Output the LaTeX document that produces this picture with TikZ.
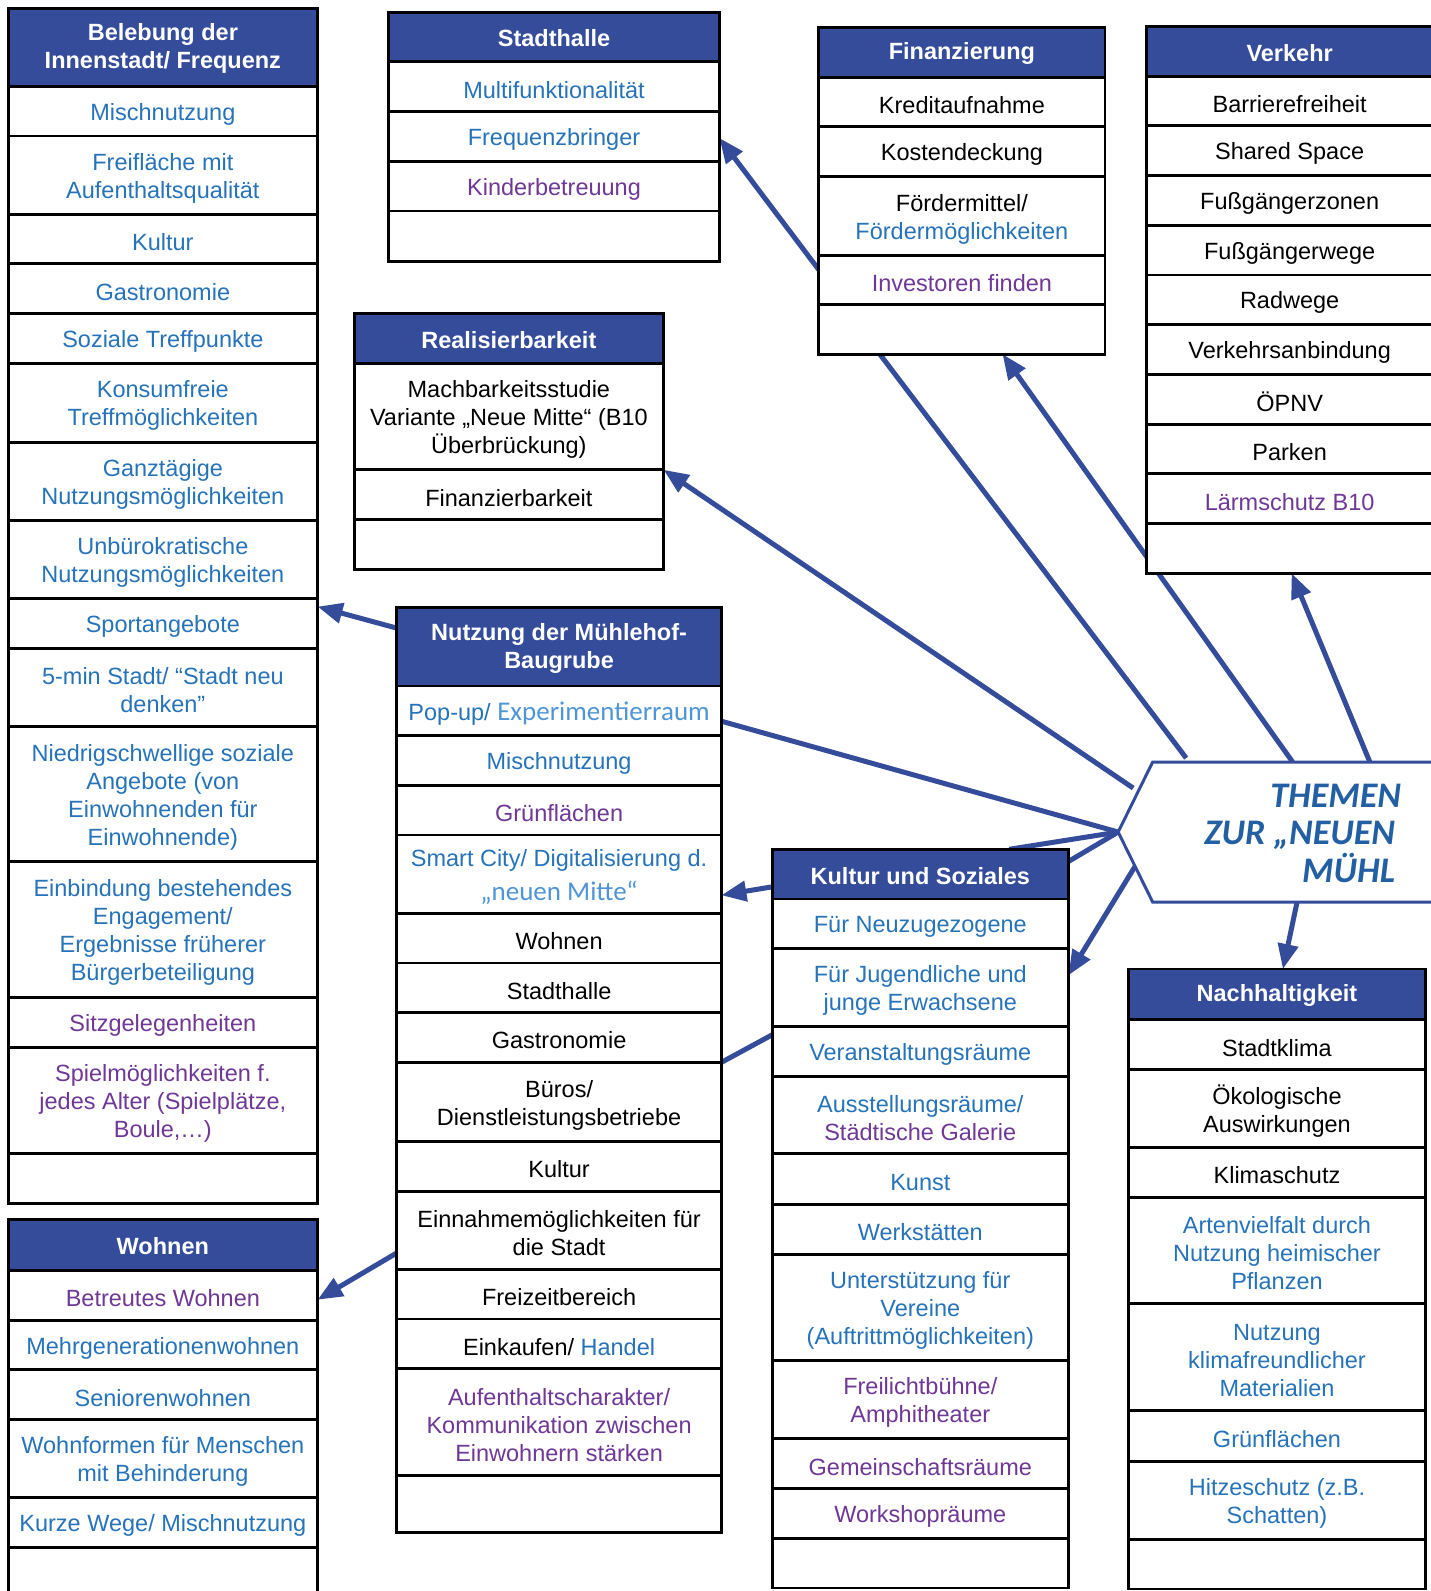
\documentclass[tikz,border=0pt]{standalone}
\usepackage{fontspec}
\setmainfont{Liberation Sans}
\newfontfamily\calfont{Carlito}
\usetikzlibrary{arrows.meta,calc}
\definecolor{hdrblue}{HTML}{354C9B}
\definecolor{tblue}{HTML}{2673BA}
\definecolor{tpurple}{HTML}{6F3896}
\definecolor{lblue}{HTML}{4F95D6}
\definecolor{hextext}{HTML}{2360A3}
\pgfdeclarelayer{back}
\pgfdeclarelayer{bg}
\pgfsetlayers{back,bg,main}
\tikzset{
 cellbox/.style={draw=black, line width=2.8pt, fill=white, inner sep=0pt, outer sep=0pt},
 celltext/.style={inner sep=0pt, align=center, font=\fontsize{23.5}{28}\selectfont, text=black, yshift=-3pt},
 hdr/.style={text=white, font=\bfseries\fontsize{23.5}{28}\selectfont, yshift=1.5pt},
 hdrfill/.style={fill=hdrblue},
 cb/.style={text=tblue}, cp/.style={text=tpurple}, ck/.style={text=black},
 conn/.style={draw=hdrblue, line width=5pt},
 arr/.style={conn, -{Triangle[length=25pt,width=20pt]}},
 hexstyle/.style={draw=hdrblue, line width=3pt, fill=white},
}
% name, x1, x2, y1, y2, text style, text
\newcommand\cell[7]{\node[cellbox,minimum width={(#3-#2)*1.0149pt},minimum height={(#5-#4)*1.0149pt}] (#1) at ({(#2+#3)/2},{(#4+#5)/2}) {};
\node[celltext,#6] (#1-t) at (#1.center) {#7};}
\newcommand\hcell[7]{\node[cellbox,hdrfill,minimum width={(#3-#2)*1.0149pt},minimum height={(#5-#4)*1.0149pt}] (#1) at ({(#2+#3)/2},{(#4+#5)/2}) {};
\node[celltext,hdr] (#1-t) at (#1.center) {#7};}
\newcommand\calit[1]{{\calfont\fontsize{27}{32}\selectfont #1}}
\begin{document}
\begin{tikzpicture}[x=1.0149pt,y=-1.0149pt]
\begin{pgfonlayer}{back}
\path[fill=white] (0,0) rectangle (1410,1568);
\end{pgfonlayer}
\useasboundingbox (0,0) rectangle (1410,1568);

% Belebung
\hcell{bel0}{8}{313}{8}{85}{}{Belebung der\\Innenstadt/ Frequenz}
\cell{bel1}{8}{313}{85}{134}{cb}{Mischnutzung}
\cell{bel2}{8}{313}{134}{211}{cb}{Freifläche mit\\Aufenthaltsqualität}
\cell{bel3}{8}{313}{211}{260}{cb}{Kultur}
\cell{bel4}{8}{313}{260}{309}{cb}{Gastronomie}
\cell{bel5}{8}{313}{309}{358}{cb}{Soziale Treffpunkte}
\cell{bel6}{8}{313}{358}{436}{cb}{Konsumfreie\\Treffmöglichkeiten}
\cell{bel7}{8}{313}{436}{513}{cb}{Ganztägige\\Nutzungsmöglichkeiten}
\cell{bel8}{8}{313}{513}{590}{cb}{Unbürokratische\\Nutzungsmöglichkeiten}
\cell{bel9}{8}{313}{590}{639}{cb}{Sportangebote}
\cell{bel10}{8}{313}{639}{716}{cb}{5-min Stadt/ “Stadt neu\\denken”}
\cell{bel11}{8}{313}{716}{849}{cb}{Niedrigschwellige soziale\\Angebote (von\\Einwohnenden für\\Einwohnende)}
\cell{bel12}{8}{313}{849}{983}{cb}{Einbindung bestehendes\\Engagement/\\Ergebnisse früherer\\Bürgerbeteiligung}
\cell{bel13}{8}{313}{983}{1032}{cp}{Sitzgelegenheiten}
\cell{bel14}{8}{313}{1032}{1137}{cp}{Spielmöglichkeiten f.\\jedes Alter (Spielplätze,\\Boule,…)}
\cell{bel15}{8}{313}{1137}{1186}{}{}

% Stadthalle
\hcell{sh0}{383}{709}{12}{61}{}{Stadthalle}
\cell{sh1}{383}{709}{61}{110}{cb}{Multifunktionalität}
\cell{sh2}{383}{709}{110}{159}{cb}{Frequenzbringer}
\cell{sh3}{383}{709}{159}{208}{cp}{Kinderbetreuung}
\cell{sh4}{383}{709}{208}{258}{}{}

% Finanzierung
\hcell{fin0}{807}{1089}{27}{76}{}{Finanzierung}
\cell{fin1}{807}{1089}{76}{125}{ck}{Kreditaufnahme}
\cell{fin2}{807}{1089}{125}{174}{ck}{Kostendeckung}
\cell{fin3}{807}{1089}{174}{252}{ck}{Fördermittel/\\\textcolor{tblue}{Fördermöglichkeiten}}
\cell{fin4}{807}{1089}{252}{300}{cp}{Investoren finden}
\cell{fin5}{807}{1089}{300}{349}{}{}

% Verkehr
\hcell{ver0}{1130}{1412}{26}{75}{}{Verkehr}
\cell{ver1}{1130}{1412}{75}{124}{ck}{Barrierefreiheit}
\cell{ver2}{1130}{1412}{124}{173}{ck}{Shared Space}
\cell{ver3}{1130}{1412}{173}{222}{ck}{Fußgängerzonen}
\cell{ver4}{1130}{1412}{222}{271}{ck}{Fußgängerwege}
\cell{ver5}{1130}{1412}{271}{320}{ck}{Radwege}
\cell{ver6}{1130}{1412}{320}{369}{ck}{Verkehrsanbindung}
\cell{ver7}{1130}{1412}{369}{418}{ck}{ÖPNV}
\cell{ver8}{1130}{1412}{418}{467}{ck}{Parken}
\cell{ver9}{1130}{1412}{467}{516}{cp}{Lärmschutz B10}
\cell{ver10}{1130}{1412}{516}{565}{}{}

% Realisierbarkeit
\hcell{re0}{349}{654}{309}{358}{}{Realisierbarkeit}
\cell{re1}{349}{654}{358}{463}{ck}{Machbarkeitsstudie\\Variante „Neue Mitte“ (B10\\Überbrückung)}
\cell{re2}{349}{654}{463}{512}{ck}{Finanzierbarkeit}
\cell{re3}{349}{654}{512}{561}{}{}

% Nutzung der Mühlehof-Baugrube
\hcell{nu0}{391}{711}{599}{676}{}{Nutzung der Mühlehof-\\Baugrube}
\cell{nu1}{391}{711}{676}{725}{cb}{Pop-up/ \textcolor{lblue}{\calit{Experimentierraum}}}
\cell{nu2}{391}{711}{725}{774}{cb}{Mischnutzung}
\cell{nu3}{391}{711}{774}{823}{cp}{Grünflächen}
\cell{nu4}{391}{711}{823}{900}{cb}{Smart City/ Digitalisierung d.\\[6pt]\textcolor{lblue}{\calit{„neuen Mitte“}}}
\cell{nu5}{391}{711}{900}{949}{ck}{Wohnen}
\cell{nu6}{391}{711}{949}{998}{ck}{Stadthalle}
\cell{nu7}{391}{711}{998}{1047}{ck}{Gastronomie}
\cell{nu8}{391}{711}{1047}{1125}{ck}{Büros/\\Dienstleistungsbetriebe}
\cell{nu9}{391}{711}{1125}{1174}{ck}{Kultur}
\cell{nu10}{391}{711}{1174}{1251}{ck}{Einnahmemöglichkeiten für\\die Stadt}
\cell{nu11}{391}{711}{1251}{1300}{ck}{Freizeitbereich}
\cell{nu12}{391}{711}{1300}{1349}{ck}{Einkaufen/ \textcolor{tblue}{Handel}}
\cell{nu13}{391}{711}{1349}{1454}{cp}{Aufenthaltscharakter/\\Kommunikation zwischen\\Einwohnern stärken}
\cell{nu14}{391}{711}{1454}{1510}{}{}

% Kultur und Soziales
\hcell{ks0}{761}{1053}{837}{886}{}{Kultur und Soziales}
\cell{ks1}{761}{1053}{886}{935}{cb}{Für Neuzugezogene}
\cell{ks2}{761}{1053}{935}{1012}{cb}{Für Jugendliche und\\junge Erwachsene}
\cell{ks3}{761}{1053}{1012}{1061}{cb}{Veranstaltungsräume}
\cell{ks4}{761}{1053}{1061}{1137}{cb}{Ausstellungsräume/\\\textcolor{tpurple}{Städtische Galerie}}
\cell{ks5}{761}{1053}{1137}{1187}{cb}{Kunst}
\cell{ks6}{761}{1053}{1187}{1236}{cb}{Werkstätten}
\cell{ks7}{761}{1053}{1236}{1341}{cb}{Unterstützung für\\Vereine\\(Auftrittmöglichkeiten)}
\cell{ks8}{761}{1053}{1341}{1418}{cp}{Freilichtbühne/\\Amphitheater}
\cell{ks9}{761}{1053}{1418}{1467}{cp}{Gemeinschaftsräume}
\cell{ks10}{761}{1053}{1467}{1516}{cp}{Workshopräume}
\cell{ks11}{761}{1053}{1516}{1565}{}{}

% Nachhaltigkeit
\hcell{na0}{1112}{1405}{955}{1005}{}{Nachhaltigkeit}
\cell{na1}{1112}{1405}{1005}{1054}{ck}{Stadtklima}
\cell{na2}{1112}{1405}{1054}{1131}{ck}{Ökologische\\Auswirkungen}
\cell{na3}{1112}{1405}{1131}{1180}{ck}{Klimaschutz}
\cell{na4}{1112}{1405}{1180}{1285}{cb}{Artenvielfalt durch\\Nutzung heimischer\\Pflanzen}
\cell{na5}{1112}{1405}{1285}{1390}{cb}{Nutzung\\klimafreundlicher\\Materialien}
\cell{na6}{1112}{1405}{1390}{1440}{cb}{Grünflächen}
\cell{na7}{1112}{1405}{1440}{1517}{cb}{Hitzeschutz (z.B.\\Schatten)}
\cell{na8}{1112}{1405}{1517}{1566}{}{}

% Wohnen
\hcell{wo0}{8}{313}{1202}{1252}{}{Wohnen}
\cell{wo1}{8}{313}{1252}{1301}{cp}{Betreutes Wohnen}
\cell{wo2}{8}{313}{1301}{1350}{cb}{Mehrgenerationenwohnen}
\cell{wo3}{8}{313}{1350}{1399}{cb}{Seniorenwohnen}
\cell{wo4}{8}{313}{1399}{1476}{cb}{Wohnformen für Menschen\\mit Behinderung}
\cell{wo5}{8}{313}{1476}{1525}{cb}{Kurze Wege/ Mischnutzung}
\cell{wo6}{8}{313}{1525}{1576}{}{}

% Hexagon
\coordinate (hexTL) at (1136,751);
\coordinate (hexTR) at (1500,751);
\coordinate (hexL) at (1102,820);
\coordinate (hexBL) at (1136,889);
\coordinate (hexBR) at (1500,889);
\path[hexstyle] (hexTR) -- (hexTL) -- (hexL) -- (hexBL) -- (hexBR);
\node[font=\calfont\bfseries\itshape\fontsize{36}{37.5}\selectfont, text=hextext, align=right, anchor=east, inner sep=0pt] (themen) at (1381,821) {THEMEN\\ZUR „NEUEN\kern6pt\\MÜHL\kern6pt};

% Connectors
\begin{pgfonlayer}{bg}
\draw[arr] ($(fin4.north west)!0.29!(fin4.south west)$) -- ($(sh2.north east)!0.53!(sh2.south east)$);
\draw[conn, shorten >=5pt] ($(fin5.south west)!0.213!(fin5.south east)$) -- ($(hexTL)!0.099!(hexTR)$);
\draw[arr] ($(hexTL)!0.379!(hexTR)$) -- ($(fin5.south west)!0.642!(fin5.south east)$);
\draw[arr] ($(hexTL)!0.588!(hexTR)$) -- ($(ver10.south west)!0.507!(ver10.south east)$);
\draw[arr, shorten <=6pt] ($(hexTL)!0.42!(hexL)$) -- (re2.north east);
\draw[conn] ($(nu1.north east)!0.71!(nu1.south east)$) -- (hexL);
\draw[conn] (hexL) -- ($(ks0.north west)!0.80!(ks0.north east)$);
\draw[conn] (hexL) -- ($(ks0.north east)!0.245!(ks0.south east)$);
\draw[arr] ($(hexL)!0.49!(hexBL)$) -- ($(ks2.north east)!0.34!(ks2.south east)$);
\draw[arr] ($(ks0.north west)!0.755!(ks0.south west)$) -- ($(nu4.north east)!0.77!(nu4.south east)$);
\draw[conn] ($(ks3.north west)!0.16!(ks3.south west)$) -- (nu8.north east);
\draw[arr] ($(nu0.north west)!0.26!(nu0.south west)$) -- ($(bel9.north east)!0.16!(bel9.south east)$);
\draw[arr] ($(nu10.north west)!0.79!(nu10.south west)$) -- ($(wo1.north east)!0.59!(wo1.south east)$);
\draw[arr] ($(hexBL)!0.391!(hexBR)$) -- ($(na0.north west)!0.52!(na0.north east)$);
\end{pgfonlayer}
\end{tikzpicture}
\end{document}
